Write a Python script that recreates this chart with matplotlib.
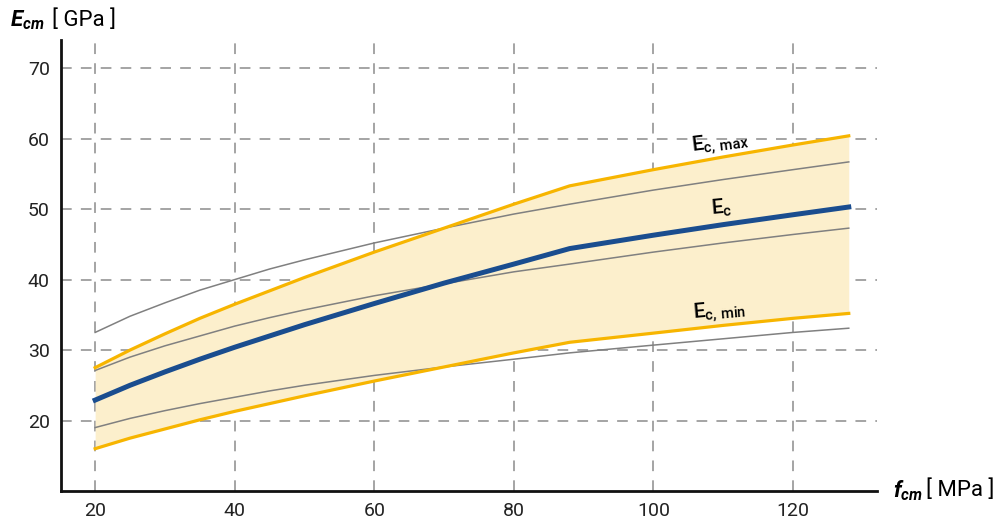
import matplotlib
matplotlib.use("Agg")
import matplotlib.pyplot as plt

plt.rcParams["font.family"] = ["Roboto", "DejaVu Sans"]
plt.rcParams["mathtext.fontset"] = "custom"
plt.rcParams["mathtext.it"] = "Roboto:italic:bold"
plt.rcParams["mathtext.rm"] = "Roboto:medium"
plt.rcParams["mathtext.bf"] = "Roboto:bold"

# mean compressive strength f_cm [MPa]
fcm = [20, 25, 30, 35, 40, 45, 50, 60, 70, 80, 88, 100, 110, 120, 128]

# reduced modulus E_c with its upper / lower band [GPa]
ec = [22.9, 25.0, 26.9, 28.7, 30.4, 32.0, 33.6, 36.6, 39.5, 42.2, 44.4,
      46.3, 47.8, 49.2, 50.3]
ec_max = [27.5, 30.0, 32.3, 34.5, 36.5, 38.4, 40.3, 43.9, 47.3, 50.7, 53.3,
          55.6, 57.4, 59.1, 60.4]
ec_min = [16.0, 17.5, 18.8, 20.1, 21.3, 22.4, 23.5, 25.6, 27.6, 29.6, 31.1,
          32.4, 33.5, 34.5, 35.2]

# thin grey reference curves E_cm [GPa]
ecm_hi = [32.5, 34.8, 36.7, 38.5, 40.0, 41.5, 42.8, 45.2, 47.3, 49.3, 50.7,
          52.7, 54.2, 55.6, 56.7]
ecm_mid = [27.1, 29.0, 30.6, 32.0, 33.4, 34.6, 35.7, 37.7, 39.4, 41.1, 42.2,
           43.9, 45.2, 46.4, 47.3]
ecm_lo = [19.0, 20.3, 21.4, 22.4, 23.3, 24.2, 25.0, 26.4, 27.6, 28.7, 29.6,
          30.7, 31.6, 32.5, 33.1]

x_ticks = [20, 40, 60, 80, 100, 120]
y_ticks = [20, 30, 40, 50, 60, 70]

YELLOW = "#f7b500"
FILL = "#fcefcc"
BLUE = "#1a4d8f"
GREY = "#808080"

fig = plt.figure(figsize=(9.96, 5.25), dpi=100)
ax = fig.add_axes([0.0612, 0.0648, 0.819, 0.859])

ax.fill_between(fcm, ec_min, ec_max, color=FILL, lw=0, zorder=1)
for s in (ecm_hi, ecm_mid, ecm_lo):
    ax.plot(fcm, s, color=GREY, lw=1.1, zorder=3)
ax.plot(fcm, ec_max, color=YELLOW, lw=2.3, zorder=4)
ax.plot(fcm, ec_min, color=YELLOW, lw=2.3, zorder=4)
ax.plot(fcm, ec, color=BLUE, lw=3.6, zorder=5)

ax.set_xlim(15.1, 132)
ax.set_ylim(10, 74)
ax.set_xticks(x_ticks)
ax.set_yticks(y_ticks)
ax.tick_params(length=0, labelsize=14, pad=8, colors="#222222")
ax.grid(True, color="#8c8c8c", lw=1.1, linestyle=(0, (7, 6)), zorder=0)
ax.set_axisbelow(True)
for side in ("top", "right"):
    ax.spines[side].set_visible(False)
for side in ("left", "bottom"):
    ax.spines[side].set_linewidth(2)
    ax.spines[side].set_color("#111111")

# curve labels
ax.text(109.5, 59.4, r"$\mathrm{E}_{\mathrm{c,\,max}}$", fontsize=15,
        rotation=7, ha="center", va="center", zorder=6)
ax.text(109.8, 50.1, r"$\mathrm{E}_{\mathrm{c}}$", fontsize=15,
        rotation=5, ha="center", va="center", zorder=6)
ax.text(109.5, 35.5, r"$\mathrm{E}_{\mathrm{c,\,min}}$", fontsize=15,
        rotation=5, ha="center", va="center", zorder=6)

# axis titles
fig.text(0.010, 0.962, r"$E_{cm}$", fontsize=16, ha="left", va="center")
fig.text(0.052, 0.962, "[ GPa ]", fontsize=16, ha="left", va="center")
fig.text(0.897, 0.066, r"$f_{cm}$", fontsize=16, ha="left", va="center")
fig.text(0.930, 0.066, "[ MPa ]", fontsize=16, ha="left", va="center")

fig.savefig("out.png", dpi=100)
